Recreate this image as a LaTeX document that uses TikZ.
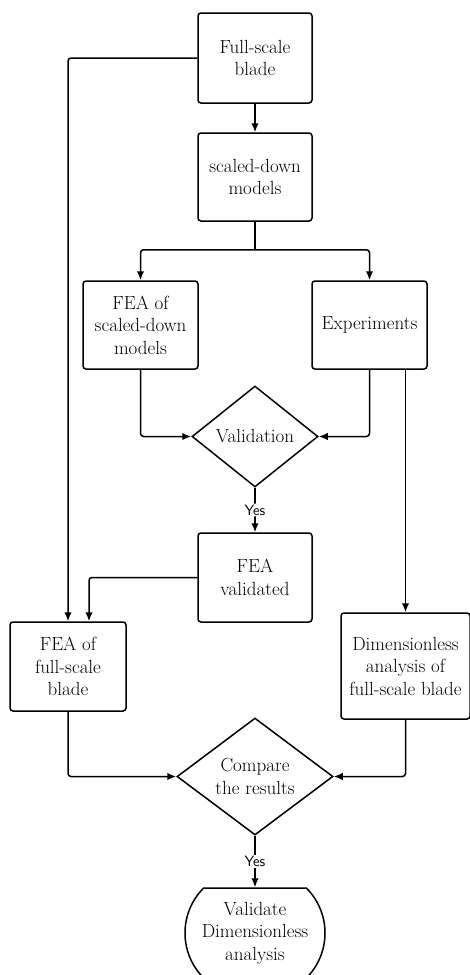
\documentclass[tikz,border=0pt]{standalone}
\usepackage{tikz}
\usetikzlibrary{positioning}
\usetikzlibrary{calc}
\usetikzlibrary{arrows.meta}
\usetikzlibrary{shapes.geometric}
\usetikzlibrary{shapes.misc}

\begin{document}
\begin{tikzpicture}[x=1pt, y=-1pt,
        every node/.style={align=center, font=\fontsize{19}{22.5}\selectfont},
        box/.style={draw, line width=1.5pt, rounded corners=3pt, inner sep=2pt},
        decision/.style={draw, diamond, line width=1.5pt, inner sep=0pt},
        yesLabel/.style={fill=white, inner sep=1pt, font=\sffamily\fontsize{15}{17}\selectfont},
        arrow/.style={line width=1.5pt, rounded corners=3pt, -{Latex[length=9pt,width=7.5pt]}}]

        \useasboundingbox (0,0) rectangle (470,975);

        % Top boxes
        \node[box, minimum width=114pt, minimum height=90pt] (fullBlade) at (255,58) {Full-scale\\blade};
        \node[box, minimum width=114pt, minimum height=88pt] (scaledBox) at (255,177) {scaled-down\\models};

        % FEA and experiments
        \node[box, minimum width=115pt, minimum height=88pt] (feaScaledBox) at (140.5,325) {FEA of\\scaled-down\\models};
        \node[box, minimum width=115pt, minimum height=88pt] (expBox) at (369.5,325) {Experiments};

        % Validation
        \node[decision, minimum width=126pt, minimum height=101pt, aspect=1.25] (validDec) at (255,436.5) {Validation};
        \node[box, minimum width=114pt, minimum height=89pt] (validatedBox) at (255,577.5) {FEA\\validated};

        % Full-scale analyses
        \node[box, minimum width=116pt, minimum height=89pt] (feaFullBox) at (68,666.5) {FEA of\\full-scale\\blade};
        \node[box, minimum width=129pt, minimum height=106pt] (dimBox) at (405.5,666) {Dimensionless\\analysis of\\full-scale blade};

        % Compare and end
        \node[decision, minimum width=156pt, minimum height=117pt, aspect=1.33] (compareDec) at (255,776.5) {Compare\\the results};
        \node[draw, rounded rectangle, rounded rectangle arc length=90, line width=1.5pt,
              minimum width=140pt, minimum height=90pt, inner sep=0pt] (validateEnd) at (255,933) {Validate\\Dimensionless\\analysis};

        % Connectors
        \coordinate (split) at ($(scaledBox.south)+(0,28)$);
        \draw[arrow] (fullBlade) -- (scaledBox);
        \draw[line width=1.5pt] (scaledBox.south) -- (split);
        \draw[arrow] (split) -| (feaScaledBox.north);
        \draw[arrow] (split) -| (expBox.north);
        \draw[arrow] (feaScaledBox.south) |- (validDec.west);
        \draw[arrow] (expBox.south) |- (validDec.east);
        \draw[arrow] (validDec.south) -- node[yesLabel] {Yes} (validatedBox.north);
        \draw[arrow] (fullBlade.west) -| (feaFullBox.north);
        \draw[arrow] (validatedBox.west) -| ($(feaFullBox.north)+(21,0)$);
        \draw[arrow] (dimBox.north |- expBox.south) -- (dimBox.north);
        \draw[arrow] (feaFullBox.south) |- (compareDec.west);
        \draw[arrow] (dimBox.south) |- (compareDec.east);
        \draw[arrow] (compareDec.south) -- node[yesLabel] {Yes} (validateEnd.north);

    \end{tikzpicture}
\end{document}
